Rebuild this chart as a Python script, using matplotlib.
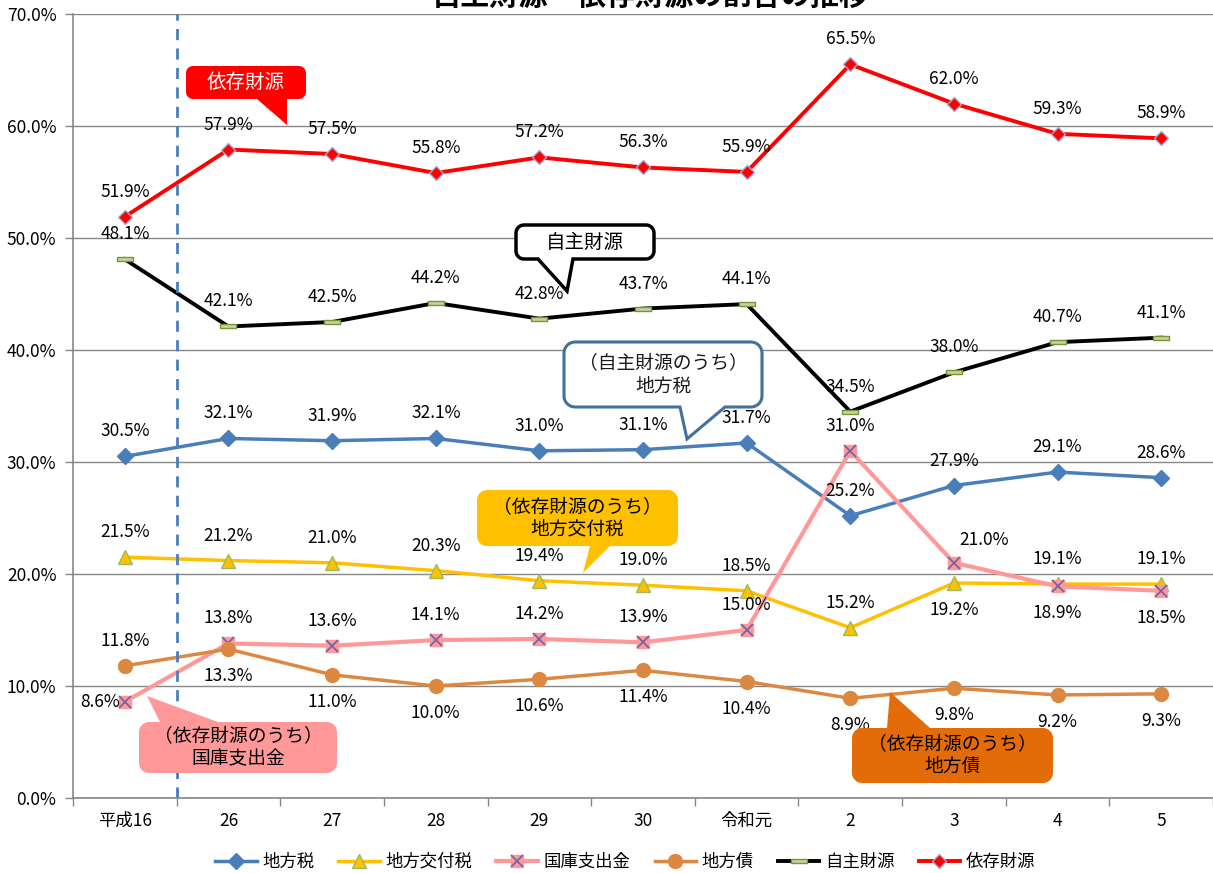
import numpy as np
import matplotlib
matplotlib.use("Agg")
import matplotlib.pyplot as plt
from matplotlib.patches import Polygon
from matplotlib.lines import Line2D
from matplotlib.transforms import Affine2D

plt.rcParams['font.family'] = ['Noto Sans CJK JP', 'DejaVu Sans']

W, H = 1213, 873

years = ['平成16', '26', '27', '28', '29', '30', '令和元', '2', '3', '4', '5']
chihouzei = [30.5, 32.1, 31.9, 32.1, 31.0, 31.1, 31.7, 25.2, 27.9, 29.1, 28.6]
koufuzei = [21.5, 21.2, 21.0, 20.3, 19.4, 19.0, 18.5, 15.2, 19.2, 19.1, 19.1]
kokko = [8.6, 13.8, 13.6, 14.1, 14.2, 13.9, 15.0, 31.0, 21.0, 18.9, 18.5]
chihousai = [11.8, 13.3, 11.0, 10.0, 10.6, 11.4, 10.4, 8.9, 9.8, 9.2, 9.3]
jishu = [48.1, 42.1, 42.5, 44.2, 42.8, 43.7, 44.1, 34.5, 38.0, 40.7, 41.1]
izon = [51.9, 57.9, 57.5, 55.8, 57.2, 56.3, 55.9, 65.5, 62.0, 59.3, 58.9]

# where each value label sits: a=above, b=below, l=left, r=upper right
pos_chihouzei = "aaaaaaaaaaa"
pos_koufuzei = "aaaaaaaabaa"
pos_kokko = "laaaaaaarbb"
pos_chihousai = "abbbbbbbbbb"
pos_jishu = "aaaaaaaaaaa"
pos_izon = "aaaaaaaaaaa"

offsets = {'a': (0, 25), 'b': (0, -27), 'l': (-25, 0), 'r': (30, 23)}

fig = plt.figure(figsize=(W / 100, H / 100), dpi=100)
ax = fig.add_axes([73 / W, 75 / H, 1 - 73 / W, 784 / H])

x = np.arange(len(years))
grid_c = '#878787'

ax.plot(x, chihouzei, color='#4A7EBB', lw=2.5, marker='D', ms=8, label='地方税')
ax.plot(x, koufuzei, color='#FFC000', lw=2.5, marker='^', ms=10, mfc='#FFC000', mec='#9BBB59', mew=1)
ax.plot(x, kokko, color='#FF9999', lw=3, marker='s', ms=9, mfc='#FF9999', mec='#FF9999')
ax.plot(x, kokko, ls='none', marker='x', ms=9, mec='#7060A8', mew=1.2)
ax.plot(x, chihousai, color='#DD8841', lw=2.5, marker='o', ms=10)
rect = [(-1, -0.3), (1, -0.3), (1, 0.3), (-1, 0.3), (-1, -0.3)]
ax.plot(x, jishu, color='black', lw=2.8, marker=rect, ms=11, mfc='#C3D69B', mec='#77933C', mew=1)
ax.plot(x, izon, color='#FF0000', lw=2.8, marker='D', ms=7.5, mfc='#FF0000', mec='#9DA9D6', mew=1)

for vals, pos in [(chihouzei, pos_chihouzei), (koufuzei, pos_koufuzei), (kokko, pos_kokko),
                  (chihousai, pos_chihousai), (jishu, pos_jishu), (izon, pos_izon)]:
    for i, v in enumerate(vals):
        dx, dy = offsets[pos[i]]
        ax.annotate('%.1f%%' % v, (i, v), xytext=(dx * 0.72, dy * 0.72), textcoords='offset points',
                    ha='center', va='center', fontsize=12.5, color='black')

ax.axvline(0.5, color='#4A7EBB', lw=2, ls=(0, (4, 3)))

ax.set_xlim(-0.5, len(years) - 0.5)
ax.set_ylim(0, 70)
ax.set_yticks(np.arange(0, 71, 10))
ax.set_yticklabels(['%.1f%%' % t for t in np.arange(0, 71, 10)], fontsize=12.5)
ax.set_xticks(x)
ax.set_xticklabels(years, fontsize=12.5)
ax.set_xticks(np.arange(-0.5, len(years), 1), minor=True)
ax.tick_params(axis='x', which='major', length=0, pad=10)
ax.tick_params(axis='x', which='minor', length=6, color=grid_c, width=1)
ax.tick_params(axis='y', length=6, color=grid_c, width=1, pad=6)
ax.yaxis.grid(True, color=grid_c, lw=1)
ax.set_axisbelow(True)
for s in ['top', 'right']:
    ax.spines[s].set_visible(False)
for s in ['left', 'bottom']:
    ax.spines[s].set_color(grid_c)
    ax.spines[s].set_linewidth(1.2)

# title, cut off at the top like the original
fig.text(650 / W, 1 - 5 / H, '自主財源・依存財源の割合の推移', ha='center', va='baseline',
         fontsize=21, fontweight='bold')

# callout boxes, in image pixels (y down)
px = Affine2D().scale(1 / W, -1 / H).translate(0, 1) + fig.transFigure


def callout(box, side, base, tip, fc, ec, lw, text, tc, fs, r=9):
    x0, y0, x1, y1 = box
    pts = []

    def arc(cx, cy, a0, a1):
        for t in np.linspace(a0, a1, 8):
            pts.append((cx + r * np.cos(t), cy + r * np.sin(t)))

    arc(x0 + r, y0 + r, np.pi, 1.5 * np.pi)
    if side == 'top':
        pts += [(base[0], y0), tip, (base[1], y0)]
    arc(x1 - r, y0 + r, -0.5 * np.pi, 0)
    arc(x1 - r, y1 - r, 0, 0.5 * np.pi)
    if side == 'bottom':
        pts += [(base[1], y1), tip, (base[0], y1)]
    arc(x0 + r, y1 - r, 0.5 * np.pi, np.pi)
    fig.add_artist(Polygon(pts, closed=True, transform=px, fc=fc, ec=ec, lw=lw, zorder=5))
    fig.text((x0 + x1) / 2 / W, 1 - (y0 + y1) / 2 / H, text, ha='center', va='center',
             fontsize=fs, color=tc, linespacing=1.1, zorder=6)


callout((186, 66, 306, 99), 'bottom', (257, 287), (287, 125), '#FF0000', '#FF0000', 0, '依存財源', 'white', 14, 7)
callout((516, 225, 654, 259), 'bottom', (538, 573), (567, 291), 'white', 'black', 2.5, '自主財源', 'black', 14, 8)
callout((564, 342, 762, 407), 'bottom', (680, 725), (687, 439), 'white', '#41719C', 2.2,
        '（自主財源のうち）\n地方税', '#1a1a1a', 13.5, 11)
callout((477, 490, 678, 546), 'bottom', (590, 610), (583, 573), '#FFC000', '#FFC000', 0,
        '（依存財源のうち）\n地方交付税', 'black', 13.5, 10)
callout((139, 722, 337, 773), 'top', (160, 218), (147, 696), '#FF9999', '#FF9999', 0,
        '（依存財源のうち）\n国庫支出金', 'black', 13.5, 10)
callout((852, 728, 1053, 783), 'top', (887, 930), (890, 692), '#E36C09', '#E36C09', 0,
        '（依存財源のうち）\n地方債', 'black', 13.5, 10)

handles = [
    Line2D([], [], color='#4A7EBB', lw=2.5, marker='D', ms=8),
    Line2D([], [], color='#FFC000', lw=2.5, marker='^', ms=10, mec='#9BBB59'),
    (Line2D([], [], color='#FF9999', lw=3, marker='s', ms=9, mec='#FF9999'),
     Line2D([], [], ls='none', marker='x', ms=9, mec='#7060A8', mew=1.2)),
    Line2D([], [], color='#DD8841', lw=2.5, marker='o', ms=10),
    Line2D([], [], color='black', lw=2.8, marker=rect, ms=11, mfc='#C3D69B', mec='#77933C'),
    Line2D([], [], color='#FF0000', lw=2.8, marker='D', ms=7.5, mec='#9DA9D6'),
]
labels = ['地方税', '地方交付税', '国庫支出金', '地方債', '自主財源', '依存財源']
fig.legend(handles, labels, loc='center', bbox_to_anchor=(625 / W, 1 - 862 / H), ncol=6,
           frameon=False, fontsize=12.5, handlelength=2.4, handletextpad=0.3, columnspacing=1.4)

fig.savefig('out.png', dpi=100)
